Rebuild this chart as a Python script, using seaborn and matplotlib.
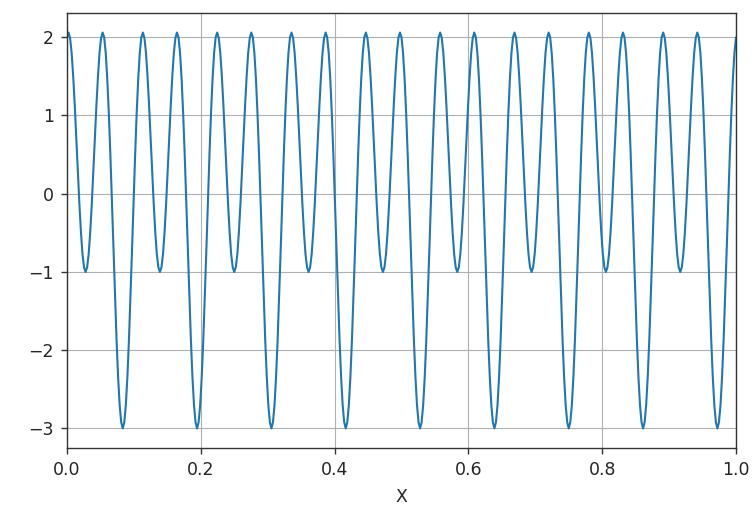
import numpy as np
import pandas as pd
import seaborn as sns
import matplotlib
matplotlib.use("Agg")
import matplotlib.pyplot as plt

# One repeating cycle of the signal (period 1/9 on x)
cycle = [2.00, 2.06, 1.99, 1.80, 1.50, 1.13, 0.71, 0.28, -0.13, -0.49, -0.77, -0.94,
         -1.00, -0.94, -0.77, -0.49, -0.13, 0.28, 0.71, 1.13, 1.50, 1.80, 1.99, 2.06,
         2.00, 1.80, 1.47, 1.03, 0.50, -0.09, -0.71, -1.31, -1.87, -2.34, -2.70, -2.92,
         -3.00, -2.92, -2.70, -2.34, -1.87, -1.31, -0.71, -0.09, 0.50, 1.03, 1.47, 1.80]
y_values = cycle * 9 + [2.00]
x_values = np.linspace(0.0, 1.0, len(y_values))

x_ticks = [0.0, 0.2, 0.4, 0.6, 0.8, 1.0]
y_ticks = [-3, -2, -1, 0, 1, 2]

df = pd.DataFrame({"X": x_values, "Y": y_values})

sns.set_style("ticks")
plt.rcParams["font.family"] = ["DejaVu Sans"]
plt.rcParams["font.size"] = 12.5

fig = plt.figure(figsize=(7.54, 5.08), dpi=100)
ax = fig.add_axes([67 / 754, 1 - 448 / 508, (736 - 67) / 754, (448 - 13) / 508])
sns.lineplot(data=df, x="X", y="Y", ax=ax, color="#1f77b4", linewidth=1.5)
ax.set_xlim(0, 1)
ax.set_ylim(-3.25, 2.31)
ax.set_xticks(x_ticks)
ax.set_xticklabels([f"{t:.1f}" for t in x_ticks])
ax.set_yticks(y_ticks)
ax.set_yticklabels(["\u2212" + str(abs(t)) if t < 0 else str(t) for t in y_ticks])
ax.grid(True, color="#b0b0b0", linewidth=0.8)
ax.set_axisbelow(True)
ax.set_ylabel("")
ax.set_xlabel("X", fontsize=12.5, labelpad=6)
ax.tick_params(labelsize=12.5, length=4.5, width=1, color="#333333", pad=5)
for s in ax.spines.values():
    s.set_color("#333333")
    s.set_linewidth(1.0)
fig.savefig("out.png", dpi=100)
